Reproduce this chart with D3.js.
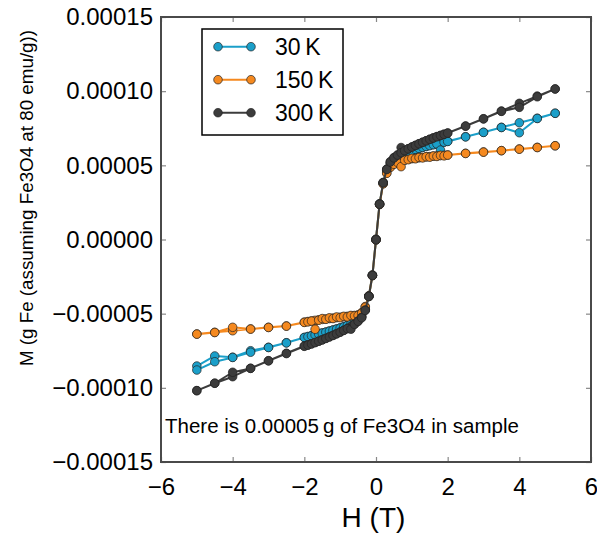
<!DOCTYPE html>
<html>
<head>
<meta charset="utf-8">
<script src="https://cdn.jsdelivr.net/npm/d3@7"></script>
<style>
  body { margin: 0; background: #fff; }
  text { font-family: "Liberation Sans", Arial, Helvetica, sans-serif; fill: #000; }
</style>
</head>
<body>
<svg id="chart" width="597" height="535"></svg>
<script>
// Applied field sweep (T): each branch visits these fields in order
const field = [5, 4.5, 4, 3.5, 3, 2.5,
  2, 1.9, 1.8, 1.7, 1.6, 1.5, 1.4, 1.3, 1.2, 1.1, 1,
  0.9, 0.8, 0.7, 0.6, 0.5, 0.4, 0.3, 0.2, 0.1, 0,
  -0.1, -0.2, -0.3, -0.4, -0.5, -0.6, -0.7, -0.8, -0.9,
  -1, -1.1, -1.2, -1.3, -1.4, -1.5, -1.6, -1.7, -1.8, -1.9, -2,
  -2.5, -3, -3.5, -4, -4.5, -5];

// Magnetisation in units of 1e-5 g Fe, descending (Down) and ascending (Up) branches
const m30Down = [8.51, 8.17, 7.87, 7.56, 7.23, 6.93,
  6.62, 6.57, 6.51, 6.45, 6.40, 6.34, 6.28, 6.22, 6.15, 6.08, 6.01,
  5.93, 5.84, 5.73, 5.59, 5.41, 5.14, 4.68, 3.82, 2.40, 0.00,
  -2.40, -3.82, -4.70, -5.16, -5.40, -5.56, -5.69, -5.79, -5.88,
  -5.96, -6.03, -6.10, -6.17, -6.24, -6.30, -6.36, -6.42, -6.48, -6.54, -6.60,
  -6.96, -7.27, -7.50, -7.94, -7.85, -8.53];
const m30Up = [8.51, 8.16, 7.20, 7.55, 7.22, 6.92,
  6.61, 6.56, 6.03, 6.44, 6.39, 6.33, 6.27, 6.21, 6.14, 6.07, 6.00,
  5.92, 5.83, 5.72, 5.58, 5.40, 5.13, 4.66, 3.80, 2.38, -0.02,
  -2.42, -3.84, -4.72, -5.18, -5.42, -5.58, -5.70, -5.80, -5.89,
  -5.97, -6.04, -6.11, -6.18, -6.25, -6.31, -6.37, -6.43, -6.49, -6.55, -6.61,
  -6.97, -7.28, -7.60, -7.95, -8.24, -8.80];

const m150Down = [6.32, 6.21, 6.10, 5.99, 5.90, 5.81,
  5.70, 5.68, 5.66, 5.64, 5.62, 5.59, 5.57, 5.54, 5.51, 5.48, 5.45,
  5.41, 5.36, 5.30, 5.22, 5.10, 4.90, 4.50, 3.78, 2.38, 0.00,
  -2.40, -3.80, -4.52, -4.93, -5.08, -5.12, -5.15, -5.18, -5.21,
  -5.24, -5.27, -5.30, -5.33, -5.36, -5.39, -5.42, -5.45, -5.49, -5.53, -5.57,
  -5.83, -5.92, -6.03, -6.15, -6.26, -6.37];
const m150Up = [6.32, 6.20, 6.09, 5.99, 5.89, 5.80,
  5.69, 5.64, 5.67, 5.60, 5.63, 5.55, 5.58, 5.50, 5.53, 5.44, 5.47,
  5.38, 5.34, 4.91, 5.20, 5.07, 4.86, 4.46, 3.75, 2.36, -0.03,
  -2.44, -3.84, -4.56, -4.97, -5.12, -5.15, -5.12, -5.22, -5.18,
  -5.27, -5.22, -5.33, -5.28, -5.38, -5.33, -5.44, -6.05, -5.50, -5.55, -5.59,
  -5.84, -5.93, -6.04, -5.92, -6.27, -6.38];

const m300Down = [10.15, 9.67, 9.18, 8.66, 8.14, 7.65,
  7.18, 7.10, 7.02, 6.94, 6.85, 6.76, 6.66, 6.56, 6.46, 6.35, 6.24,
  6.12, 6.00, 6.20, 5.70, 5.52, 5.25, 4.75, 3.85, 2.40, 0.02,
  -2.41, -3.81, -4.75, -5.25, -5.50, -5.70, -5.86, -6.00, -6.12,
  -6.24, -6.35, -6.46, -6.56, -6.66, -6.76, -6.85, -6.94, -7.03, -7.11, -7.18,
  -7.67, -8.17, -8.68, -9.25, -9.69, -10.19];
const m300Up = [10.15, 9.62, 8.91, 8.64, 8.13, 7.64,
  7.17, 7.09, 7.01, 6.93, 6.84, 6.75, 6.65, 6.55, 6.45, 6.34, 6.23,
  6.11, 5.99, 5.85, 5.69, 5.50, 5.22, 4.72, 3.82, 2.38, -0.02,
  -2.43, -3.84, -4.78, -5.28, -5.52, -5.72, -6.05, -6.01, -6.13,
  -6.25, -6.36, -6.47, -6.57, -6.67, -6.77, -6.86, -6.95, -7.04, -7.12, -7.20,
  -7.69, -8.18, -8.69, -8.95, -9.69, -10.19];

const unit = 1e-5;

const seriesNames = ["30\u2009K", "150\u2009K", "300\u2009K"];
const seriesColors = ["#1b9fc9", "#f5891f", "#3c3c3c"];
const seriesDown = [m30Down, m150Down, m300Down];
const seriesUp = [m30Up, m150Up, m300Up];

const xTicks = [-6, -4, -2, 0, 2, 4, 6];
const xTickLabels = ["\u22126", "\u22124", "\u22122", "0", "2", "4", "6"];
const yTicks = [-0.00015, -0.0001, -0.00005, 0, 0.00005, 0.0001, 0.00015];
const yTickLabels = ["\u22120.00015", "\u22120.00010", "\u22120.00005", "0.00000",
  "0.00005", "0.00010", "0.00015"];

const xTitle = "H (T)";
const yTitle = "M (g Fe (assuming Fe3O4 at 80 emu/g))";
const note = "There is 0.00005\u2009g of Fe3O4 in sample";

const svg = d3.select("#chart");
const plot = { left: 161, right: 591, top: 17, bottom: 462 };

const x = d3.scaleLinear().domain([-6, 6]).range([plot.left, plot.right]);
const y = d3.scaleLinear().domain([-0.00015, 0.00015]).range([plot.bottom, plot.top]);

const tickFont = 24;
function styleAxis(g) {
  g.select(".domain").remove();
  g.selectAll(".tick line").attr("stroke", "#888").attr("stroke-width", 1.2);
  g.selectAll(".tick text").attr("font-size", tickFont)
    .attr("font-family", '"Liberation Sans", Arial, sans-serif').attr("fill", "#000");
}

svg.append("g").attr("transform", `translate(0,${plot.bottom})`)
  .call(d3.axisBottom(x).tickValues(xTicks).tickFormat((d, i) => xTickLabels[i])
    .tickSize(-5).tickPadding(16))
  .call(styleAxis);
svg.append("g").attr("transform", `translate(0,${plot.top})`)
  .call(d3.axisTop(x).tickValues(xTicks).tickFormat("").tickSize(-5))
  .call(styleAxis);
svg.append("g").attr("transform", `translate(${plot.left},0)`)
  .call(d3.axisLeft(y).tickValues(yTicks).tickFormat((d, i) => yTickLabels[i])
    .tickSize(-5).tickPadding(8))
  .call(styleAxis);
svg.append("g").attr("transform", `translate(${plot.right},0)`)
  .call(d3.axisRight(y).tickValues(yTicks).tickFormat("").tickSize(-5))
  .call(styleAxis);

// Plot frame
svg.append("rect")
  .attr("x", plot.left).attr("y", plot.top)
  .attr("width", plot.right - plot.left).attr("height", plot.bottom - plot.top)
  .attr("fill", "none").attr("stroke", "#4a4a4a").attr("stroke-width", 2);

const line = d3.line().x(d => x(d.h)).y(d => y(d.m));

seriesNames.forEach((name, s) => {
  const down = field.map((h, i) => ({ h, m: seriesDown[s][i] * unit }));
  const up = field.map((h, i) => ({ h, m: seriesUp[s][i] * unit })).reverse();
  const pts = down.concat(up);
  const g = svg.append("g");
  g.append("path").datum(pts).attr("d", line)
    .attr("fill", "none").attr("stroke", seriesColors[s])
    .attr("stroke-width", 2).attr("stroke-linejoin", "round");
  g.selectAll("circle").data(pts).join("circle")
    .attr("cx", d => x(d.h)).attr("cy", d => y(d.m)).attr("r", 4.3)
    .attr("fill", seriesColors[s]).attr("stroke", "#222").attr("stroke-width", 0.7);
});

// Legend
const legend = svg.append("g");
legend.append("rect").attr("x", 202).attr("y", 29).attr("width", 141).attr("height", 106)
  .attr("fill", "#fff").attr("stroke", "#000").attr("stroke-width", 1.5);
seriesNames.forEach((name, s) => {
  const ly = 46.7 + s * 33;
  legend.append("line").attr("x1", 218).attr("x2", 251).attr("y1", ly).attr("y2", ly)
    .attr("stroke", seriesColors[s]).attr("stroke-width", 2);
  [218, 251].forEach(cx => legend.append("circle").attr("cx", cx).attr("cy", ly).attr("r", 4.3)
    .attr("fill", seriesColors[s]).attr("stroke", "#222").attr("stroke-width", 0.7));
  legend.append("text").attr("x", 275).attr("y", ly).attr("dy", "0.36em")
    .attr("font-size", 23).text(name);
});

// Note inside the axes
svg.append("text").attr("x", 165).attr("y", 433).attr("font-size", 20.5).text(note);

// Axis titles
svg.append("text").attr("x", (plot.left + plot.right) / 2 - 2.5).attr("y", 527)
  .attr("text-anchor", "middle").attr("font-size", 28).text(xTitle);
svg.append("text").attr("transform", "translate(33,198) rotate(-90)")
  .attr("text-anchor", "middle").attr("font-size", 18.8).text(yTitle);
</script>
</body>
</html>
